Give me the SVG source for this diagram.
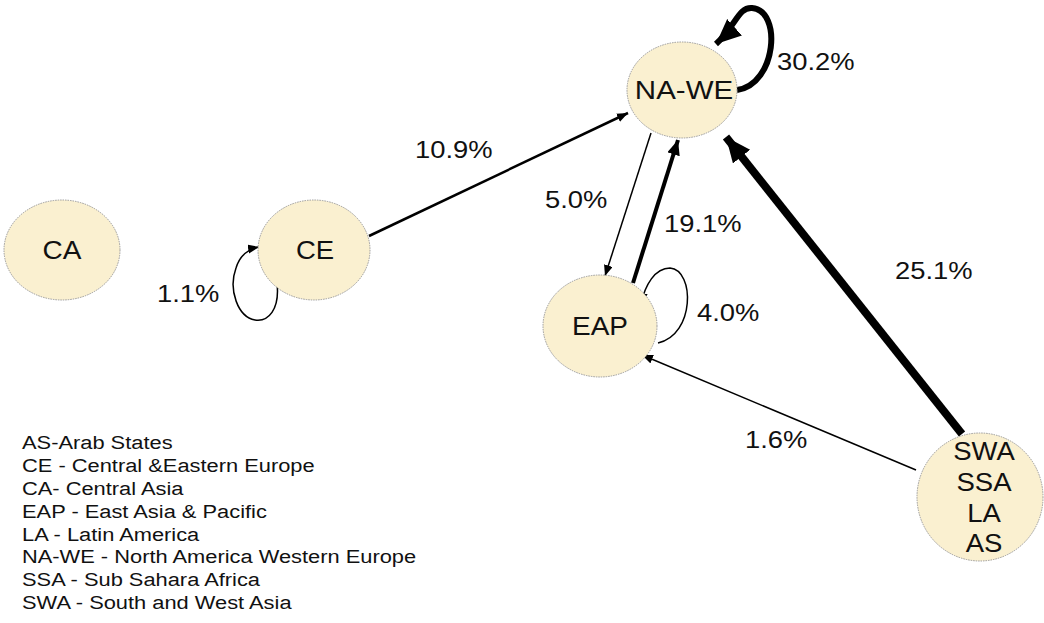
<svg xmlns="http://www.w3.org/2000/svg" width="1044" height="623" viewBox="0 0 1044 623">
<style>
.node{fill:#FAF0D0;stroke:#9a9a9a;stroke-width:1;stroke-dasharray:1.5,1}
.nt{font-family:"Liberation Sans",Arial,sans-serif;font-size:25px;fill:#111;text-anchor:middle}
.pl{font-family:"Liberation Sans",Arial,sans-serif;font-size:24px;fill:#111}
.lg{font-family:"Liberation Sans",Arial,sans-serif;font-size:19px;fill:#111}
.e{fill:none;stroke:#000}
</style>
<defs>
<marker id="aS" markerUnits="userSpaceOnUse" markerWidth="12" markerHeight="10" refX="11" refY="4.5" orient="auto"><path d="M0,0 L11,4.5 L0,9 z" fill="#000"/></marker>
<marker id="aM" markerUnits="userSpaceOnUse" markerWidth="16" markerHeight="14" refX="15" refY="6.5" orient="auto"><path d="M0,0 L15,6.5 L0,13 z" fill="#000"/></marker>
<marker id="aL" markerUnits="userSpaceOnUse" markerWidth="26" markerHeight="24" refX="25" refY="11" orient="auto"><path d="M0,0 L25,11 L0,22 z" fill="#000"/></marker>
</defs>
<rect width="1044" height="623" fill="#fff"/>
<g id="connectors">
<line class="e" x1="369" y1="236" x2="628" y2="113" stroke-width="2.5" marker-end="url(#aS)"/>
<line class="e" x1="651" y1="133" x2="605" y2="276" stroke-width="1.5" marker-end="url(#aS)"/>
<line class="e" x1="633" y1="283" x2="678" y2="140" stroke-width="4" marker-end="url(#aM)"/>
<line class="e" x1="962" y1="434" x2="726" y2="137" stroke-width="8" marker-end="url(#aL)"/>
<line class="e" x1="916" y1="470" x2="642" y2="355" stroke-width="1.5" marker-end="url(#aS)"/>
<path class="e" d="M737 90 C777 84 782 10 752 8 C738 7 736 26 716 44" stroke-width="6" marker-end="url(#aL)"/>
<path class="e" d="M658 343 C695 335 695 270 670 268 C655 268 645 285 641 304" stroke-width="1.5" marker-end="url(#aS)"/>
<path class="e" d="M277 283 C280 310 268 322 255 320 C238 317 228 290 236 268 C240 255 248 249 259 247" stroke-width="1.5" marker-end="url(#aS)"/>
</g>
<g id="node-nawe"><ellipse class="node" cx="682" cy="90" rx="55" ry="48"/><text class="nt" transform="translate(684,99) scale(1.18,1)">NA-WE</text></g>
<g id="node-ca"><ellipse class="node" cx="62" cy="250" rx="58" ry="50"/><text class="nt" transform="translate(62,259) scale(1.12,1)">CA</text></g>
<g id="node-ce"><ellipse class="node" cx="314" cy="250" rx="56" ry="50"/><text class="nt" transform="translate(315,259) scale(1.1,1)">CE</text></g>
<g id="node-eap"><ellipse class="node" cx="600" cy="326" rx="57" ry="51"/><text class="nt" transform="translate(600,335) scale(1.12,1)">EAP</text></g>
<g id="node-swa"><ellipse class="node" cx="980" cy="497" rx="63" ry="64"/>
<text class="nt" transform="translate(984,460) scale(1.1,1)">SWA</text><text class="nt" transform="translate(984,491) scale(1.1,1)">SSA</text><text class="nt" transform="translate(984,522) scale(1.1,1)">LA</text><text class="nt" transform="translate(984,552) scale(1.1,1)">AS</text></g>
<g id="labels">
<text class="pl" transform="translate(777,70) scale(1.14,1)">30.2%</text>
<text class="pl" transform="translate(415,158) scale(1.14,1)">10.9%</text>
<text class="pl" transform="translate(545,208) scale(1.14,1)">5.0%</text>
<text class="pl" transform="translate(664,232) scale(1.14,1)">19.1%</text>
<text class="pl" transform="translate(697,321) scale(1.14,1)">4.0%</text>
<text class="pl" transform="translate(895,279) scale(1.14,1)">25.1%</text>
<text class="pl" transform="translate(745,448) scale(1.14,1)">1.6%</text>
<text class="pl" transform="translate(157,302) scale(1.14,1)">1.1%</text>
</g>
<g id="legend" transform="translate(22,0) scale(1.15,1)">
<text class="lg" x="0" y="449.5">AS-Arab States</text>
<text class="lg" x="0" y="472.3">CE - Central &amp;Eastern Europe</text>
<text class="lg" x="0" y="495.1">CA- Central Asia</text>
<text class="lg" x="0" y="517.9">EAP - East Asia &amp; Pacific</text>
<text class="lg" x="0" y="540.7">LA - Latin America</text>
<text class="lg" x="0" y="563.5">NA-WE - North America Western Europe</text>
<text class="lg" x="0" y="586.3">SSA - Sub Sahara Africa</text>
<text class="lg" x="0" y="609.1">SWA - South and West Asia</text>
</g>
</svg>
